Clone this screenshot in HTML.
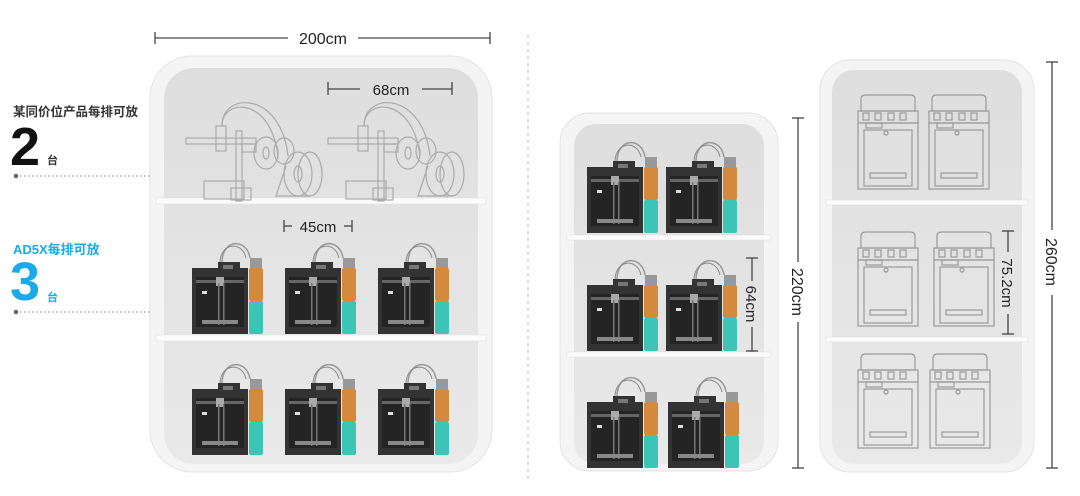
<!DOCTYPE html>
<html><head><meta charset="utf-8"><style>
html,body{margin:0;padding:0;background:#fff;width:1080px;height:496px;overflow:hidden}
svg{display:block}
text{font-family:"Liberation Sans","Noto Sans CJK SC",sans-serif}
</style></head><body>
<svg width="1080" height="496" viewBox="0 0 1080 496" xmlns="http://www.w3.org/2000/svg">
<defs>
<linearGradient id="pan" x1="0" y1="0" x2="0" y2="1"><stop offset="0" stop-color="#dedede"/><stop offset="1" stop-color="#e9e9e9"/></linearGradient>
<g id="pr">
  <path d="M30 -5 C30 -30 55 -30 58 -10" fill="none" stroke="#999" stroke-width="1.5"/>
  <path d="M28 -5 C28 -25 50 -28 54 -10" fill="none" stroke="#888" stroke-width="1"/>
  <rect x="0" y="0" width="56" height="66" fill="#333"/>
  <rect x="4" y="9" width="48" height="50" fill="#242424"/>
  <rect x="26" y="-6" width="22" height="10" fill="#333"/>
  <rect x="31" y="-3" width="10" height="4" fill="#777"/>
  <rect x="4" y="12" width="48" height="3" fill="#666"/>
  <rect x="24" y="9" width="8" height="9" fill="#aaa"/>
  <rect x="26" y="15" width="1.5" height="42" fill="#777"/>
  <rect x="31" y="15" width="1.5" height="42" fill="#777"/>
  <rect x="10" y="52" width="36" height="4" fill="#888"/>
  <rect x="10" y="23" width="5" height="3" fill="#ddd"/>
  <rect x="58" y="-10" width="12" height="10" fill="#999"/>
  <rect x="57" y="0" width="14" height="33" rx="2" fill="#d38a3c"/>
  <rect x="57" y="33" width="14" height="33" rx="2" fill="#3cc4b4"/>
</g>
<g id="sp" fill="none" stroke="#aaa" stroke-width="1.2">
  <path d="M36 0 C36 -35 95 -35 102 30"/>
  <path d="M36 0 C36 -28 85 -30 92 30"/>
  <rect x="30" y="0" width="10" height="25"/>
  <rect x="0" y="12" width="70" height="6"/>
  <rect x="50" y="5" width="6" height="70"/>
  <rect x="56" y="18" width="14" height="8"/>
  <ellipse cx="80" cy="27" rx="12" ry="16"/><ellipse cx="80" cy="27" rx="3" ry="6"/>
  <ellipse cx="98" cy="25" rx="10" ry="13"/>
  <ellipse cx="112" cy="48" rx="14" ry="22"/><ellipse cx="112" cy="48" rx="4" ry="8"/>
  <ellipse cx="124" cy="48" rx="12" ry="22"/>
  <path d="M95 70 L125 70 L90 70 L100 40"/>
  <rect x="18" y="55" width="40" height="18"/>
  <rect x="45" y="62" width="20" height="12"/>
</g>
<g id="ov" fill="none" stroke="#9a9a9a" stroke-width="1.2">
  <path d="M3 -12 Q3 -16 8 -16 L52 -16 Q57 -16 57 -12 L57 0 L3 0 Z"/>
  <rect x="0" y="0" width="60" height="12"/>
  <rect x="5" y="2" width="6" height="7"/><rect x="17" y="2" width="6" height="7"/><rect x="30" y="2" width="6" height="7"/><rect x="42" y="2" width="6" height="7"/>
  <rect x="8" y="12" width="16" height="5"/>
  <rect x="0" y="12" width="60" height="66"/>
  <rect x="6" y="19" width="48" height="56"/>
  <circle cx="28" cy="22" r="2"/>
  <rect x="12" y="62" width="36" height="5"/>
</g>
</defs>

<!-- left text -->
<text x="13" y="116" font-size="12.5" font-weight="bold" fill="#333">某同价位产品每排可放</text>
<text x="10" y="165" font-size="54" font-weight="bold" fill="#111">2</text>
<text x="47" y="164" font-size="11" font-weight="bold" fill="#333">台</text>
<circle cx="16" cy="176" r="2.3" fill="#666"/>
<line x1="20" y1="176" x2="196" y2="176" stroke="#888" stroke-width="1" stroke-dasharray="1.5 2.5"/>
<text x="13" y="254" font-size="13" font-weight="bold" fill="#1aa9ea">AD5X每排可放</text>
<text x="10" y="300" font-size="54" font-weight="bold" fill="#1aa9ea">3</text>
<text x="47" y="301" font-size="11" font-weight="bold" fill="#1aa9ea">台</text>
<circle cx="16" cy="312" r="2.3" fill="#666"/>
<line x1="20" y1="312" x2="192" y2="312" stroke="#888" stroke-width="1" stroke-dasharray="1.5 2.5"/>

<!-- 200cm -->
<line x1="155" y1="32" x2="155" y2="44" stroke="#444" stroke-width="1.3"/>
<line x1="490" y1="32" x2="490" y2="44" stroke="#444" stroke-width="1.3"/>
<line x1="155" y1="38" x2="288" y2="38" stroke="#444" stroke-width="1.3"/>
<line x1="358" y1="38" x2="490" y2="38" stroke="#444" stroke-width="1.3"/>
<text x="323" y="44" font-size="16" text-anchor="middle" fill="#222">200cm</text>

<line x1="528" y1="35" x2="528" y2="480" stroke="#bbb" stroke-width="1" stroke-dasharray="3 4"/>

<!-- cabinet 1 -->
<rect x="150" y="56" width="342" height="416" rx="42" fill="#f4f4f4" stroke="#e2e2e2"/>
<rect x="164" y="68" width="314" height="396" rx="30" fill="url(#pan)"/>
<rect x="156" y="198" width="330" height="6" fill="#fbfbfb" stroke="#ddd" stroke-width=".5"/>
<rect x="156" y="335" width="330" height="6" fill="#fbfbfb" stroke="#ddd" stroke-width=".5"/>
<use href="#sp" transform="translate(186,126)"/>
<use href="#sp" transform="translate(328,126)"/>
<line x1="328" y1="82" x2="328" y2="95" stroke="#444" stroke-width="1.3"/>
<line x1="328" y1="89" x2="360" y2="89" stroke="#444" stroke-width="1.3"/>
<line x1="422" y1="89" x2="452" y2="89" stroke="#444" stroke-width="1.3"/>
<line x1="452" y1="82" x2="452" y2="95" stroke="#444" stroke-width="1.3"/>
<text x="391" y="95" font-size="15" text-anchor="middle" fill="#222">68cm</text>
<line x1="284" y1="220" x2="284" y2="232" stroke="#444" stroke-width="1.3"/>
<line x1="284" y1="226" x2="292" y2="226" stroke="#444" stroke-width="1.3"/>
<line x1="344" y1="226" x2="352" y2="226" stroke="#444" stroke-width="1.3"/>
<line x1="352" y1="220" x2="352" y2="232" stroke="#444" stroke-width="1.3"/>
<text x="318" y="232" font-size="15" text-anchor="middle" fill="#222">45cm</text>
<use href="#pr" transform="translate(192,268)"/>
<use href="#pr" transform="translate(285,268)"/>
<use href="#pr" transform="translate(378,268)"/>
<use href="#pr" transform="translate(192,389)"/>
<use href="#pr" transform="translate(285,389)"/>
<use href="#pr" transform="translate(378,389)"/>

<!-- cabinet 2 -->
<rect x="560" y="113" width="218" height="358" rx="30" fill="#f4f4f4" stroke="#e2e2e2"/>
<rect x="574" y="124" width="190" height="340" rx="22" fill="url(#pan)"/>
<rect x="567" y="235" width="204" height="5" fill="#fbfbfb" stroke="#ddd" stroke-width=".5"/>
<rect x="567" y="352" width="204" height="5" fill="#fbfbfb" stroke="#ddd" stroke-width=".5"/>
<use href="#pr" transform="translate(587,167)"/>
<use href="#pr" transform="translate(666,167)"/>
<use href="#pr" transform="translate(587,285)"/>
<use href="#pr" transform="translate(666,285)"/>
<use href="#pr" transform="translate(587,402)"/>
<use href="#pr" transform="translate(668,402)"/>
<g stroke="#444" stroke-width="1.3">
<line x1="746" y1="258" x2="758" y2="258"/><line x1="746" y1="351" x2="758" y2="351"/>
<line x1="752" y1="258" x2="752" y2="281"/><line x1="752" y1="327" x2="752" y2="351"/>
<line x1="792" y1="118" x2="804" y2="118"/><line x1="792" y1="468" x2="804" y2="468"/>
<line x1="798" y1="118" x2="798" y2="262"/><line x1="798" y1="322" x2="798" y2="468"/>
</g>
<text transform="translate(746,304) rotate(90)" font-size="15" text-anchor="middle" fill="#222">64cm</text>
<text transform="translate(792,292) rotate(90)" font-size="16" text-anchor="middle" fill="#222">220cm</text>

<!-- cabinet 3 -->
<rect x="820" y="60" width="214" height="412" rx="30" fill="#f4f4f4" stroke="#e2e2e2"/>
<rect x="832" y="70" width="190" height="394" rx="22" fill="url(#pan)"/>
<rect x="826" y="200" width="202" height="5" fill="#fbfbfb" stroke="#ddd" stroke-width=".5"/>
<rect x="826" y="337" width="202" height="5" fill="#fbfbfb" stroke="#ddd" stroke-width=".5"/>
<use href="#ov" transform="translate(858,111)"/>
<use href="#ov" transform="translate(929,111)"/>
<use href="#ov" transform="translate(858,248)"/>
<use href="#ov" transform="translate(934,248)"/>
<use href="#ov" transform="translate(858,370)"/>
<use href="#ov" transform="translate(930,370)"/>
<g stroke="#444" stroke-width="1.3">
<line x1="1002" y1="231" x2="1014" y2="231"/><line x1="1002" y1="334" x2="1014" y2="334"/>
<line x1="1008" y1="231" x2="1008" y2="252"/><line x1="1008" y1="314" x2="1008" y2="334"/>
<line x1="1046" y1="62" x2="1058" y2="62"/><line x1="1046" y1="468" x2="1058" y2="468"/>
<line x1="1052" y1="62" x2="1052" y2="230"/><line x1="1052" y1="295" x2="1052" y2="468"/>
</g>
<text transform="translate(1002,283) rotate(90)" font-size="15" text-anchor="middle" fill="#222">75.2cm</text>
<text transform="translate(1046,262) rotate(90)" font-size="16" text-anchor="middle" fill="#222">260cm</text>
</svg>
</body></html>
